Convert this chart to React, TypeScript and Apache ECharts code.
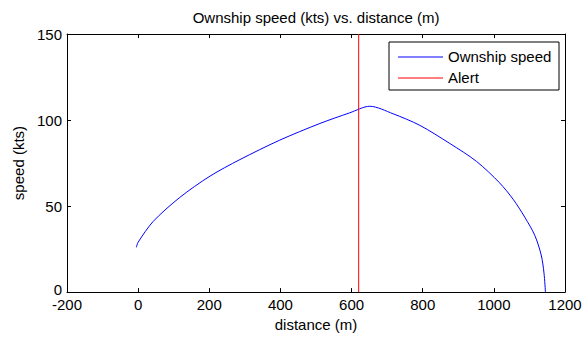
import React, { useEffect, useRef } from "react";
import * as echarts from "echarts";

const distance = [-5, 0, 42, 117, 202, 286, 398, 511, 595, 651, 717, 792, 876, 951, 1016, 1054, 1087, 1115, 1133, 1141, 1145];
const speed = [26, 29, 41, 55, 67.4, 77, 88.3, 98, 104.2, 108, 103.6, 96.9, 86.4, 76, 63.5, 54, 43.5, 33, 21.6, 11, 0];
const alertX = [620, 620];
const alertY = [0, 150];
const xTicks = [-200, 1200, 200];
const yTicks = [0, 150, 50];
const seriesNames = ["Ownship speed", "Alert"];
const colors = ["#0000ff", "#ff0000"];

const FONT = "'Liberation Sans', Arial, sans-serif";
const FS = 15;

export default function App() {
  const ref = useRef<HTMLDivElement>(null);
  useEffect(() => {
    if (!ref.current) return;
    const chart = echarts.init(ref.current, null, { renderer: "svg" });
    const axisLine = { show: true, onZero: false, lineStyle: { color: "#000", width: 1 } };
    const tick = { show: true, inside: true, length: 4, lineStyle: { color: "#000" } };
    const label = { color: "#000", fontFamily: FONT, fontSize: FS };
    const fmt = (v: number) => String(v);
    const yFmt = (v: number) => (v === yTicks[0] ? `{z|${v}}` : String(v));
    const xBase = { type: "value", min: xTicks[0], max: xTicks[1], interval: xTicks[2], splitLine: { show: false } };
    const yBase = { type: "value", min: yTicks[0], max: yTicks[1], interval: yTicks[2], splitLine: { show: false } };
    const lx = 389, ly = 42, lw = 170, lh = 48;
    chart.setOption({
      animation: false,
      backgroundColor: "#fff",
      textStyle: { fontFamily: FONT },
      title: {
        text: "Ownship speed (kts) vs. distance (m)",
        left: 316,
        textAlign: "center",
        top: 10,
        padding: 0,
        textStyle: { fontFamily: FONT, fontSize: FS, fontWeight: "normal", color: "#000" },
      },
      grid: { left: 67, top: 34, right: 20, bottom: 41, containLabel: false },
      xAxis: [
        {
          ...xBase,
          position: "bottom",
          axisLine,
          axisTick: tick,
          axisLabel: { ...label, margin: 6, lineHeight: 13, formatter: fmt },
          name: "distance (m)",
          nameLocation: "middle",
          nameGap: 24,
          nameTextStyle: { ...label },
        },
        {
          ...xBase,
          position: "top",
          axisLine,
          axisTick: tick,
          axisLabel: { show: false },
        },
      ],
      yAxis: [
        {
          ...yBase,
          position: "left",
          axisLine,
          axisTick: tick,
          axisLabel: {
            ...label,
            margin: 5,
            lineHeight: 13,
            formatter: yFmt,
            rich: { z: { fontFamily: FONT, fontSize: FS, color: "#000", lineHeight: 13, padding: [0, 0, 6, 0] } },
          },
          name: "speed (kts)",
          nameLocation: "middle",
          nameGap: 38,
          nameRotate: 90,
          nameTextStyle: { ...label },
        },
        {
          ...yBase,
          position: "right",
          axisLine,
          axisTick: tick,
          axisLabel: { show: false },
        },
      ],
      series: [
        {
          name: seriesNames[0],
          type: "line",
          data: distance.map((d, i) => [d, speed[i]]),
          showSymbol: false,
          symbol: "none",
          smooth: 0.3,
          lineStyle: { color: colors[0], width: 1 },
        },
        {
          name: seriesNames[1],
          type: "line",
          data: alertX.map((d, i) => [d, alertY[i]]),
          showSymbol: false,
          symbol: "none",
          lineStyle: { color: colors[1], width: 1 },
        },
      ],
      graphic: [
        { type: "rect", shape: { x: lx, y: ly, width: lw, height: lh }, style: { fill: "#fff", stroke: "#000", lineWidth: 1 }, z: 100 },
        { type: "line", shape: { x1: 398, y1: 57, x2: 443, y2: 57 }, style: { stroke: colors[0], lineWidth: 1 }, z: 101 },
        { type: "line", shape: { x1: 398, y1: 78, x2: 443, y2: 78 }, style: { stroke: colors[1], lineWidth: 1 }, z: 101 },
        { type: "text", x: 448, y: 56, style: { text: seriesNames[0], fill: "#000", font: `${FS}px ${FONT}`, verticalAlign: "middle" }, z: 101 },
        { type: "text", x: 448, y: 77, style: { text: seriesNames[1], fill: "#000", font: `${FS}px ${FONT}`, verticalAlign: "middle" }, z: 101 },
      ],
    });
    return () => chart.dispose();
  }, []);
  return <div ref={ref} style={{ width: 585, height: 337, position: "absolute", left: 0, top: 0 }} />;
}
